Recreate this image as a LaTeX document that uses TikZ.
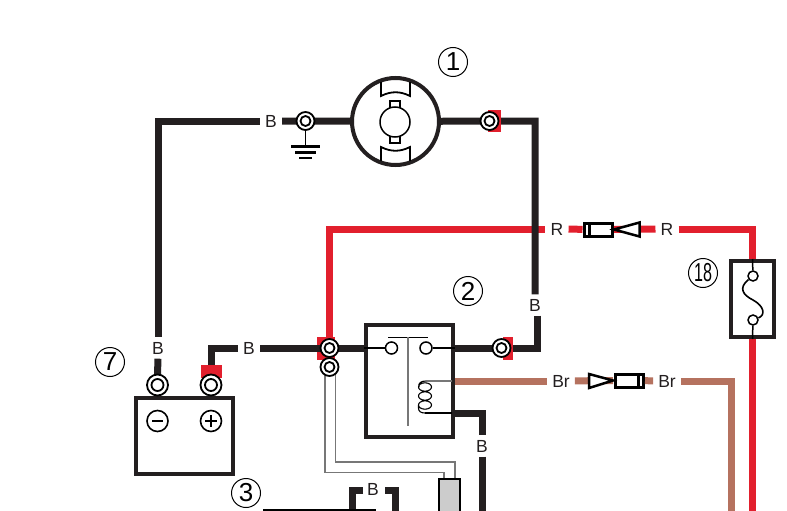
\documentclass[tikz,border=0pt]{standalone}
\usepackage{fontspec}
\setmainfont{Liberation Sans}
\definecolor{wblack}{HTML}{231F20}
\definecolor{wred}{HTML}{E21F2D}
\definecolor{wbrown}{HTML}{B5725F}
\definecolor{wgrey}{HTML}{777777}
\tikzset{
  wirelabel/.style={inner xsep=5pt,inner ysep=4.5pt,font=\fontsize{17.5}{17.5}\selectfont,text=wblack},
  blackwire/.style={draw=wblack,line width=7pt},
  redwire/.style={draw=wred,line width=7pt},
  brownwire/.style={draw=wbrown,line width=7pt},
  thinwire/.style={draw=wgrey,line width=1.4pt},
  hairline/.style={draw=black,line width=1.6pt},
  terminal/.style={circle,draw=black,fill=white,line width=1.8pt,minimum size=18pt,inner sep=0pt},
  terminalcore/.style={circle,draw=black,fill=white,line width=1.8pt,minimum size=10pt,inner sep=0pt},
  contact/.style={circle,draw=black,fill=white,line width=1.5pt,minimum size=12pt,inner sep=0pt},
  unitbox/.style={rectangle,draw=wblack,fill=white,line width=4pt,inner sep=0pt},
  housing/.style={rectangle,draw=black,fill=white,line width=3pt,inner sep=0pt},
  wedge/.style={draw=black,fill=white,line width=2.5pt,line join=miter},
  callout/.style={circle,draw=black,line width=1pt,minimum size=29pt,inner sep=0pt,font=\fontsize{26}{26}\selectfont},
  polarity/.style={circle,draw=black,line width=1.6pt,minimum size=21pt,inner sep=0pt},
  redpatch/.style={fill=wred,draw=none},
}
\begin{document}
\begin{tikzpicture}[x=1pt,y=-1pt]
\useasboundingbox (0,0) rectangle (787,511);
% wire labels
\node[wirelabel] (bTop) at (271,121) {B};
\node[wirelabel] (bBatN) at (158,348) {B};
\node[wirelabel] (bBatP) at (249,348) {B};
\node[wirelabel] (bRight) at (535,305) {B};
\node[wirelabel] (bRelay) at (482,446) {B};
\node[wirelabel] (bBottom) at (373,489) {B};
\node[wirelabel] (rA) at (557,229) {R};
\node[wirelabel] (rB) at (667,229) {R};
\node[wirelabel] (brA) at (561,381) {Br};
\node[wirelabel] (brB) at (667,381) {Br};
% units
\node[circle,draw=wblack,fill=white,line width=4pt,minimum size=87pt,inner sep=0pt] (motor) at (395.5,121.5) {};
\node[unitbox,minimum width=87pt,minimum height=112pt] (relay) at (409.5,381) {};
\node[unitbox,minimum width=97pt,minimum height=76pt] (battery) at (184.5,436) {};
\node[unitbox,minimum width=43pt,minimum height=76pt] (fuse) at (752.5,299) {};
\node[rectangle,draw=black,fill=black!20,line width=1.6pt,minimum width=21pt,minimum height=40pt,inner sep=0pt,anchor=north] (sensor) at (449.5,478) {};
% connector housings
\node[housing,minimum width=28pt,minimum height=13pt] (fuseConnA) at (598,229.5) {};
\node[housing,minimum width=28pt,minimum height=13pt] (brConnB) at (629.5,380.5) {};
\coordinate (triA) at (614,229.5);
\coordinate (triB) at (613,380.5);
% terminals
\coordinate (tGnd) at (305.5,121);
\coordinate (tMotor) at (489.5,121);
\coordinate (tRelayR) at (501.5,348);
\coordinate (tRelayL) at (329.5,348);
\coordinate (tLow) at (329.5,367);
\coordinate (tBatN) at (157.5,385);
\coordinate (tBatP) at (211,385);
% patch under the black wire
\fill[redpatch] (317,337) rectangle (335,360);
% red wires
\draw[redwire] (tRelayL) |- (rA);
\draw[redwire] (rA) -- (fuseConnA);
\draw[redwire] (triA) -- (rB);
\draw[redwire] (rB) -| (fuse);
\draw[redwire] (fuse) -- (752.5,511);
% brown wires
\draw[brownwire] (relay.east |- brA) -- (brA);
\draw[brownwire] (brA) -- (triB);
\draw[brownwire] (brConnB) -- (brB);
\draw[brownwire] (brB) -| (731,511);
% black wires
\draw[blackwire] (bTop) -- (tGnd) -- (motor);
\draw[blackwire] (bTop) -| (bBatN);
\draw[blackwire] (bBatN) -- (tBatN);
\draw[blackwire] (motor) -- (tMotor) -| (bRight);
\draw[blackwire] (bRight.south -| 537,0) -- (537,348) -- (tRelayR);
\draw[blackwire] (tRelayR) -- (relay.east |- tRelayR);
\draw[blackwire] (relay.west |- tRelayL) -- (tRelayL) -- (bBatP);
\draw[blackwire] (bBatP) -| (tBatP);
\draw[blackwire] (453,413) -| (bRelay);
\draw[blackwire] (bRelay) -- (482,511);
\draw[blackwire] (363,490) -- (352,490) -- (352,511);
\draw[blackwire] (385,490) -- (395,490) -- (395,511);
\draw[draw=black,line width=2pt] (263,510) -- (376,510);
% patches over the black wires
\fill[redpatch] (488,110) rectangle (501,132);
\fill[redpatch] (503,337) rectangle (513,360);
\fill[redpatch] (201,365) rectangle (222,378);
% thin harness
\draw[thinwire] (325,367) -- (325,472.5) -- (444,472.5) -- (444,478);
\draw[thinwire] (335.3,367) -- (335.3,462) -- (455,462) -- (455,478);
% motor interior
\draw[line width=1.8pt,draw=black] (381,82) -- (381,96) .. controls (391,91) and (400,91) .. (410,96) -- (410,82);
\draw[line width=1.8pt,draw=black] (381,161) -- (381,147) .. controls (391,152) and (400,152) .. (410,147) -- (410,161);
\node[rectangle,draw=black,fill=white,line width=2pt,minimum width=10pt,minimum height=7pt,inner sep=0pt] (brushT) at (395,104) {};
\node[rectangle,draw=black,fill=white,line width=2pt,minimum width=10pt,minimum height=7pt,inner sep=0pt] (brushB) at (395,139) {};
\node[circle,draw=black,fill=white,line width=1.5pt,minimum size=30pt,inner sep=0pt] (rotor) at (395,122) {};
% ground
\coordinate (gBar) at (305.5,146);
\draw[draw=black,line width=1.6pt] (tGnd) -- (gBar);
\draw[draw=black,line width=3pt] (291,146) -- (320,146);
\draw[draw=black,line width=2.6pt] (295,152.5) -- (316,152.5);
\draw[draw=black,line width=2.4pt] (299,158) -- (312,158);
% terminals on top
\foreach \t in {tGnd,tMotor,tRelayR,tRelayL,tLow}{
  \node[terminal] at (\t) {};
  \node[terminalcore] at (\t) {};
}
\foreach \t in {tBatN,tBatP}{
  \node[terminal,minimum size=21pt] at (\t) {};
  \node[terminalcore,minimum size=12pt] at (\t) {};
}
% relay interior
\node[contact] (cL) at (391.5,348) {};
\node[contact] (cR) at (426,348) {};
\draw[hairline] (relay.west |- cL) -- (cL);
\draw[hairline] (cR) -- (relay.east |- cR);
\draw[draw=black,line width=1pt] (388,337) -- (428,337);
\draw[draw=wgrey,line width=1.6pt] (408,337) -- (408,426);
\draw[draw=wgrey,line width=1.4pt] (452,381) -- (426,381);
\draw[draw=black,line width=1.1pt] (426,381) .. controls (421,381) and (418,383) .. (419,387)
  (425,387) ellipse [x radius=6.5,y radius=4.2]
  (425,396) ellipse [x radius=6.5,y radius=4.2]
  (425,405) ellipse [x radius=6.5,y radius=4.2]
  (418.5,405) -- (418.5,408) .. controls (418.5,411.5) and (421,413) .. (425,413);
\draw[draw=black,line width=1.4pt] (425,413) -- (452,413);
% battery polarity
\node[polarity] (minus) at (157.5,421) {};
\draw[draw=black,line width=1.6pt] (152,421) -- (163,421);
\node[polarity] (plus) at (211,421) {};
\draw[draw=black,line width=1.6pt] (205,421) -- (217,421) (211,415) -- (211,427);
% connectors
\draw[draw=black,line width=2.5pt] (589.5,223) -- (589.5,236);
\draw[draw=black,line width=3pt] (638,374) -- (638,387);
\draw[wedge] (triA) -- (639.5,222.5) -- (639.5,236.5) -- cycle;
\draw[wedge] (triB) -- (589,374) -- (589,388) -- cycle;
% fuse
\node[contact,minimum size=10pt] (fT) at (753,276) {};
\node[contact,minimum size=10pt] (fB) at (753,320) {};
\draw[draw=black,line width=1.5pt] (fuse.north) -- (fT);
\draw[draw=black,line width=1.5pt] (fB) -- (fuse.south);
\draw[draw=black,line width=1.6pt] (fT) .. controls (738,288) and (743,295) .. (753,300) .. controls (764,306) and (766,315) .. (fB);
% callouts
\node[callout] (n1) at (453,62) {1};
\node[callout] (n2) at (468,291) {2};
\node[callout] (n3) at (246,493) {3};
\node[callout] (n7) at (110,362) {7};
\node[callout] (n18) at (703,273) {\scalebox{.62}[1]{18}};
\end{tikzpicture}
\end{document}
